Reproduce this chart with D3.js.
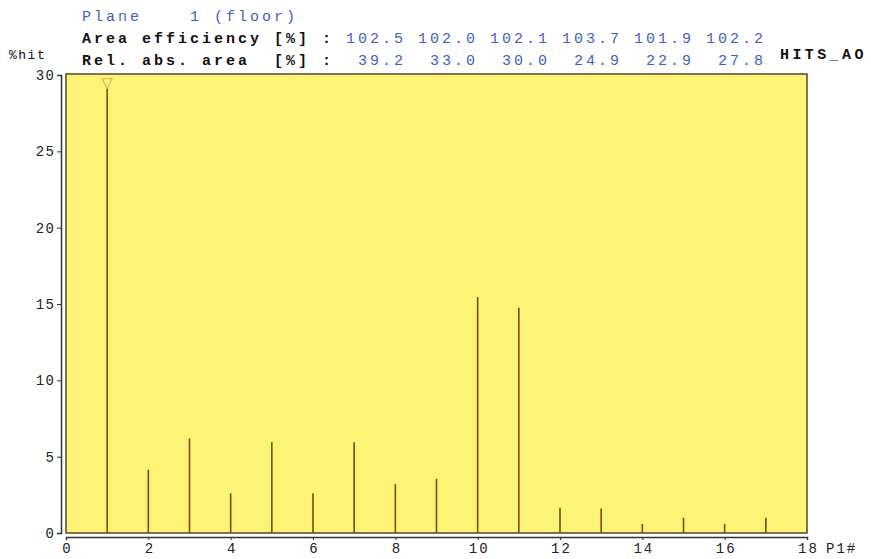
<!DOCTYPE html>
<html>
<head>
<meta charset="utf-8">
<script src="https://cdn.jsdelivr.net/npm/d3@7"></script>
<style>
  body { margin: 0; background: #fff; }
  text { font-family: "Liberation Mono", "DejaVu Sans Mono", monospace; white-space: pre; }
</style>
</head>
<body>
<script>
// plane number on x, percent of hits on y
const planes = [1, 2, 3, 4, 5, 6, 7, 8, 9, 10, 11, 12, 13, 14, 15, 16, 17];
const hitPct = [29.1, 4.15, 6.2, 2.6, 5.95, 2.6, 5.95, 3.2, 3.55, 15.45, 14.75, 1.65, 1.6, 0.6, 1.0, 0.6, 1.0];
const areaEff = ["102.5", "102.0", "102.1", "103.7", "101.9", "102.2"];
const relArea = [" 39.2", " 33.0", " 30.0", " 24.9", " 22.9", " 27.8"];
const yTicks = [0, 5, 10, 15, 20, 25, 30];
const xTicks = [0, 2, 4, 6, 8, 10, 12, 14, 16, 18];

const width = 871, height = 559;
const margin = { left: 66, right: 64, top: 75, bottom: 26 };

const svg = d3.select("body").append("svg")
    .attr("width", width)
    .attr("height", height);

const x = d3.scaleLinear().domain([0, 18]).range([margin.left, width - margin.right]);
const y = d3.scaleLinear().domain([0, 30]).range([height - margin.bottom, margin.top]);

const blue = "#3f5fc4";
const lsp = "3px";

// header lines
const head = svg.append("g").attr("font-size", 15).attr("letter-spacing", lsp);
head.append("text").attr("x", 82).attr("y", 21).attr("fill", blue)
    .text("Plane    1 (floor)");

let t = head.append("text").attr("x", 82).attr("y", 43);
t.append("tspan").attr("fill", "#111").attr("font-weight", "bold").text("Area efficiency [%] : ");
t.append("tspan").attr("fill", blue).text(areaEff.join(" "));

t = head.append("text").attr("x", 82).attr("y", 65);
t.append("tspan").attr("fill", "#111").attr("font-weight", "bold").text("Rel. abs. area  [%] : ");
t.append("tspan").attr("fill", blue).text(relArea.join(" "));

svg.append("text").attr("x", 9).attr("y", 59)
    .attr("font-size", 13).attr("letter-spacing", "1.5px").attr("fill", "#111")
    .text("%hit");

svg.append("text").attr("x", 780).attr("y", 59)
    .attr("font-size", 15).attr("letter-spacing", "3.4px").attr("font-weight", "bold").attr("fill", "#111")
    .text("HITS_AO");

// plot area
svg.append("rect")
    .attr("x", x(0)).attr("y", y(30) - 1)
    .attr("width", x(18) - x(0)).attr("height", y(0) - y(30) + 1)
    .attr("fill", "#fdf477")
    .attr("stroke", "#5a4424")
    .attr("stroke-width", 1.5);

// y axis
const yAxis = svg.append("g")
    .attr("transform", "translate(61,0)")
    .call(d3.axisLeft(y).tickValues(yTicks).tickSize(4).tickPadding(3));
yAxis.select(".domain").attr("stroke", "#333").attr("stroke-width", 1.5);
yAxis.selectAll(".tick line").attr("stroke", "#333");
yAxis.selectAll(".tick text")
    .attr("font-family", "Liberation Mono, monospace")
    .attr("font-size", 14).attr("letter-spacing", "1.5px").attr("fill", "#222")
    .attr("dx", "1.5px");

// x axis
const xAxis = svg.append("g")
    .attr("transform", "translate(0," + (y(0) + 4) + ")")
    .call(d3.axisBottom(x).tickValues(xTicks).tickSize(3).tickPadding(3));
xAxis.select(".domain").attr("stroke", "#333").attr("stroke-width", 1.5);
xAxis.selectAll(".tick line").attr("stroke", "#333");
xAxis.selectAll(".tick text")
    .attr("font-family", "Liberation Mono, monospace")
    .attr("font-size", 14).attr("letter-spacing", "2px").attr("fill", "#222")
    .attr("dx", "1px");

svg.append("text").attr("x", 826).attr("y", 553)
    .attr("font-size", 14).attr("letter-spacing", "2px").attr("fill", "#222")
    .text("P1#");

// spikes
svg.selectAll(".spike").data(planes)
    .enter().append("line")
    .attr("class", "spike")
    .attr("x1", d => x(d)).attr("x2", d => x(d))
    .attr("y1", y(0))
    .attr("y2", (d, i) => y(hitPct[i]))
    .attr("stroke", "#7a4a12")
    .attr("stroke-width", 1.6);

// peak marker
const iMax = d3.maxIndex(hitPct);
svg.append("path")
    .attr("d", "M" + (x(planes[iMax]) - 5) + "," + (y(hitPct[iMax]) - 10) +
        "h10l-5,10z")
    .attr("fill", "none")
    .attr("stroke", "#e0a050")
    .attr("stroke-width", 1);
</script>
</body>
</html>
